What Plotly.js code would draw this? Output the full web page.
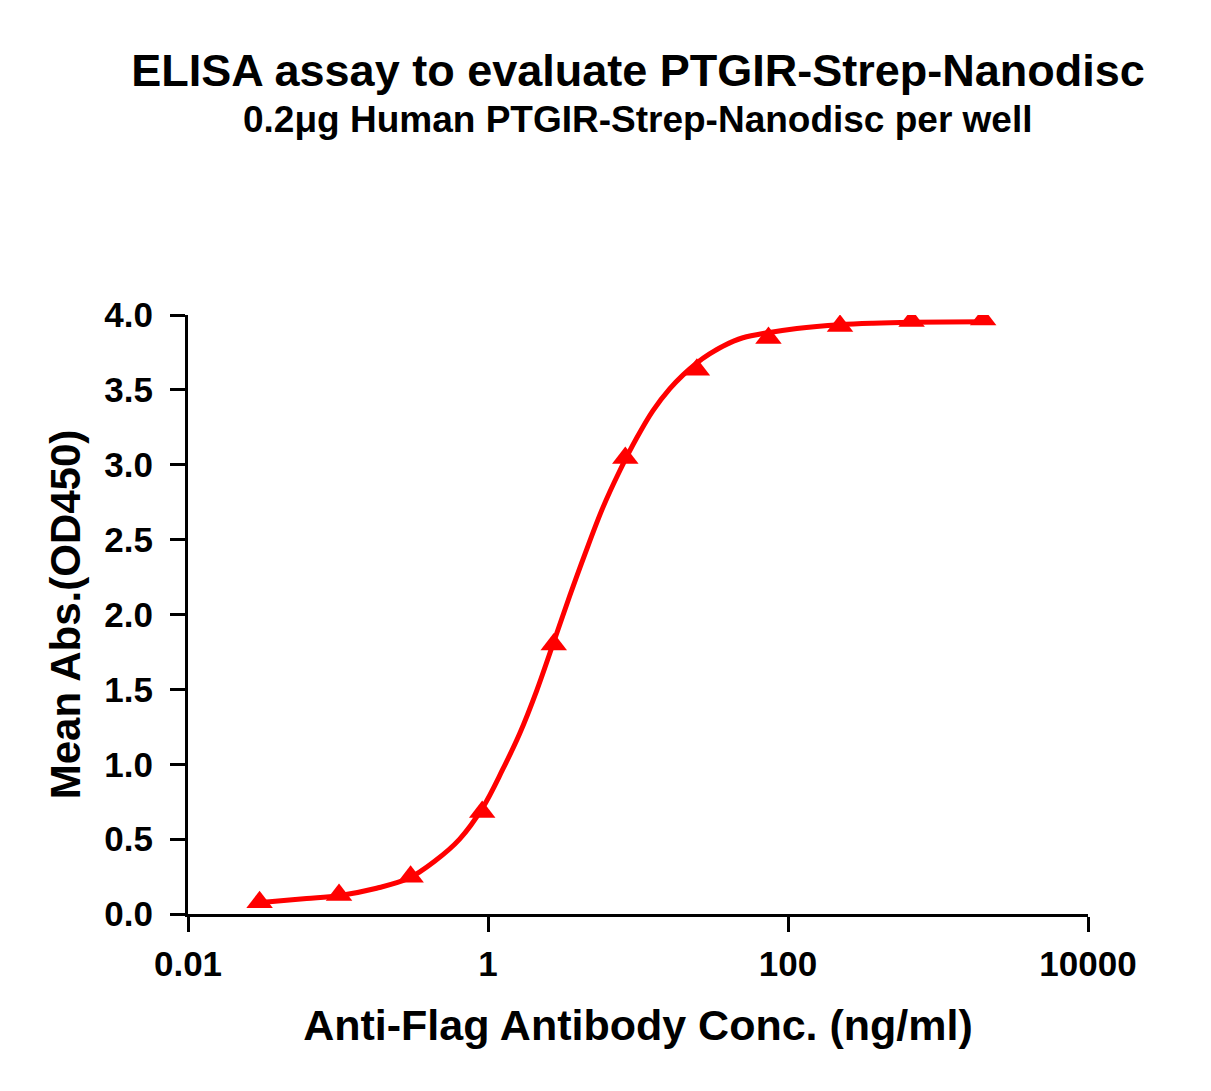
<!DOCTYPE html>
<html>
<head>
<meta charset="utf-8">
<title>ELISA assay to evaluate PTGIR-Strep-Nanodisc</title>
<script src="https://cdn.plot.ly/plotly-3.0.1.min.js"></script>
<style>
    body { margin: 0; background: #fff; }
    #elisa { width: 1211px; height: 1091px; }
</style>
</head>
<body>
<div id="elisa"></div>
<script>
// measured wells: antibody conc. (ng/ml) vs mean OD450
var conc = [0.030, 0.1016, 0.3048, 0.9145, 2.743, 8.230, 24.69, 74.07, 222.2, 666.7, 2000];
var meanAbs = [0.078, 0.127, 0.249, 0.681, 1.80, 3.045, 3.635, 3.846, 3.927, 3.960, 3.970];

// fitted curve
var fitConc = [0.030, 0.035, 0.0618, 0.1009, 0.1808, 0.2955, 0.4406, 0.6471, 0.9217, 1.253,
    1.627, 2.113, 2.703, 3.508, 4.416, 5.821, 7.560, 9.817, 12.55, 16.31,
    20.0, 24.66, 30.0, 36.78, 50.05, 73.41, 114.6, 221.8, 368.3, 670.3, 1995];
var fitAbs = [0.077, 0.082, 0.103, 0.122, 0.172, 0.238, 0.352, 0.500, 0.710, 0.965,
    1.205, 1.492, 1.798, 2.125, 2.400, 2.712, 2.960, 3.180, 3.360, 3.508,
    3.600, 3.680, 3.740, 3.792, 3.848, 3.882, 3.910, 3.935, 3.945, 3.951, 3.955];

var xTickVals = [0.01, 1, 100, 10000];
var xTickText = ['0.01', '1', '100', '10000'];
var yTickVals = [0, 0.5, 1, 1.5, 2, 2.5, 3, 3.5, 4];
var yTickText = ['0.0', '0.5', '1.0', '1.5', '2.0', '2.5', '3.0', '3.5', '4.0'];

(function () {
    'use strict';

    var font = 'Liberation Sans, Arial, Helvetica, sans-serif';
    var red = '#ff0000';

    var fit = {
        x: fitConc,
        y: fitAbs,
        type: 'scatter',
        mode: 'lines',
        line: { color: red, width: 5, shape: 'spline', smoothing: 1 },
        hoverinfo: 'skip'
    };

    var points = {
        x: conc,
        y: meanAbs,
        type: 'scatter',
        mode: 'markers',
        marker: { symbol: 'triangle-up', size: 23, color: red }
    };

    var layout = {
        width: 1211,
        height: 1091,
        margin: { l: 188, r: 123, t: 315, b: 177 },
        paper_bgcolor: '#fff',
        plot_bgcolor: '#fff',
        showlegend: false,
        font: { family: font, color: '#000', weight: 'bold' },
        title: {
            text: 'ELISA assay to evaluate PTGIR-Strep-Nanodisc',
            font: { size: 45, family: font, weight: 'bold', color: '#000' },
            x: 0.5, xref: 'paper', xanchor: 'center',
            y: 1 - 70 / 1091, yref: 'container', yanchor: 'middle'
        },
        annotations: [{
            text: '0.2μg Human PTGIR-Strep-Nanodisc per well',
            font: { size: 37, family: font, weight: 'bold', color: '#000' },
            xref: 'paper', yref: 'paper',
            x: 0.5, y: (914 - 120) / 599,
            xanchor: 'center', yanchor: 'middle',
            showarrow: false
        }],
        xaxis: {
            type: 'log',
            range: [-2, 4],
            tickvals: xTickVals,
            ticktext: xTickText,
            ticks: 'outside',
            ticklen: 15,
            tickwidth: 3,
            tickcolor: '#000',
            tickfont: { size: 35, family: font, weight: 'bold' },
            ticklabelstandoff: 2,
            showline: true,
            linewidth: 3,
            linecolor: '#000',
            showgrid: false,
            zeroline: false,
            title: {
                text: 'Anti-Flag Antibody Conc. (ng/ml)',
                font: { size: 43, family: font, weight: 'bold' },
                standoff: 28
            }
        },
        yaxis: {
            range: [0, 4],
            tickvals: yTickVals,
            ticktext: yTickText,
            ticks: 'outside',
            ticklen: 15,
            tickwidth: 3,
            tickcolor: '#000',
            tickfont: { size: 35, family: font, weight: 'bold' },
            ticklabelstandoff: 10,
            showline: true,
            linewidth: 3,
            linecolor: '#000',
            showgrid: false,
            zeroline: false,
            title: {
                text: 'Mean Abs.(OD450)',
                font: { size: 42, family: font, weight: 'bold' },
                standoff: 11
            }
        }
    };

    var config = { displayModeBar: false, staticPlot: true };

    Plotly.newPlot('elisa', [fit, points], layout, config);
})();
</script>
</body>
</html>
